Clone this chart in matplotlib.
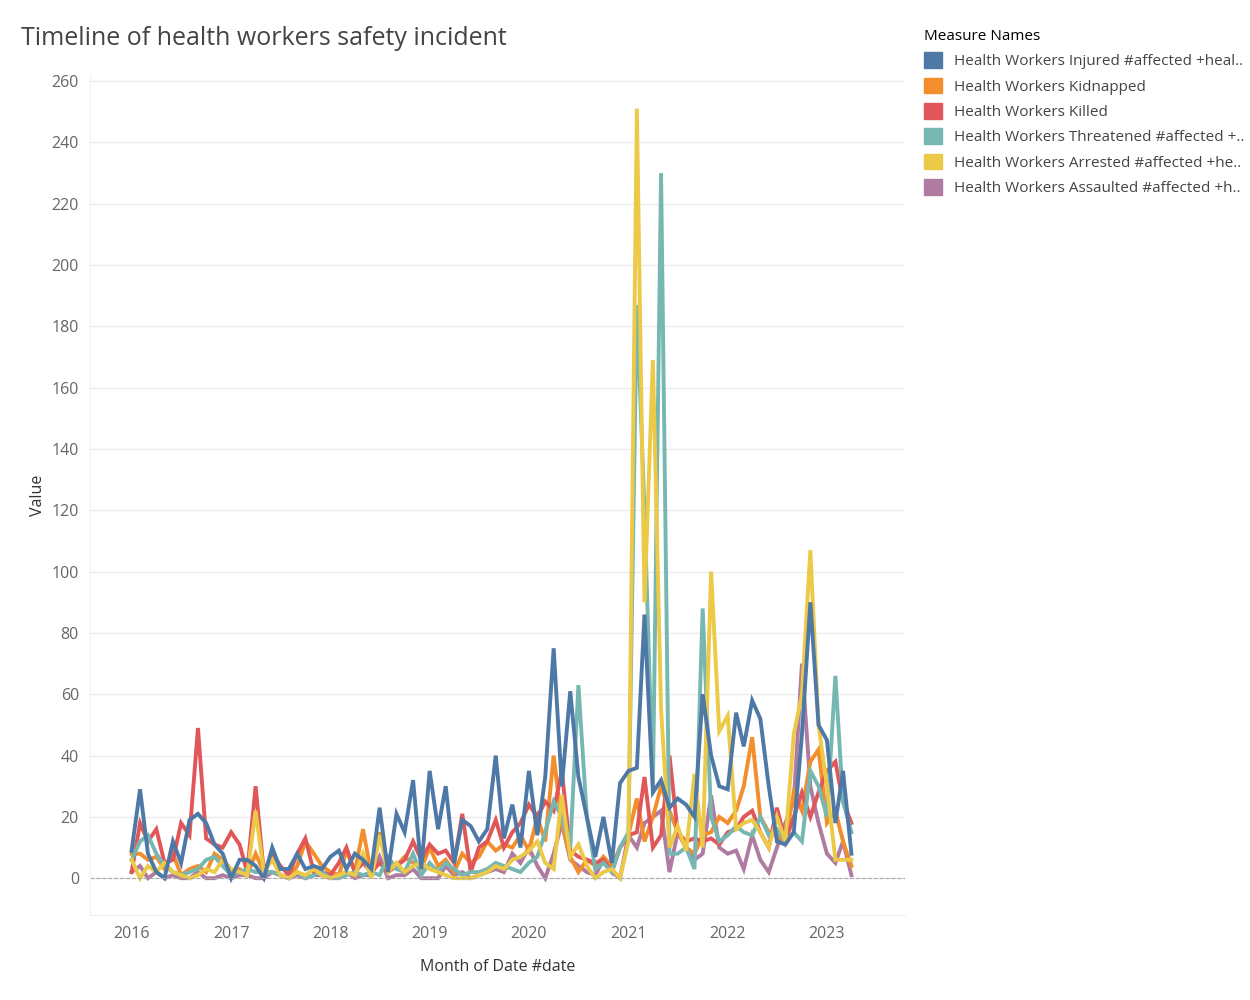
import matplotlib.pyplot as plt
import numpy as np
import pandas as pd

months = pd.date_range("2016-01-01", "2023-04-01", freq="MS")

injured = [9, 29, 8, 2, 0, 12, 5, 19, 21, 18, 11, 8,
           0, 6, 6, 4, 0, 10, 3, 3, 8, 3, 4, 3,
           7, 9, 3, 8, 6, 3, 23, 2, 21, 15, 32, 3,
           35, 16, 30, 5, 19, 17, 12, 16, 40, 13, 24, 10,
           35, 14, 33, 75, 30, 61, 33, 20, 7, 20, 5, 31,
           35, 36, 86, 28, 32, 23, 26, 24, 20, 60, 40, 30,
           29, 54, 43, 58, 52, 30, 12, 11, 15, 47, 90, 50,
           45, 18, 35, 8]
kidnapped = [8, 8, 6, 7, 3, 8, 1, 3, 4, 2, 8, 6,
             2, 3, 1, 8, 2, 2, 1, 0, 4, 12, 8, 4,
             2, 1, 9, 2, 16, 1, 15, 3, 4, 7, 5, 3,
             10, 4, 6, 2, 8, 5, 7, 12, 9, 11, 10, 14,
             9, 20, 12, 40, 18, 7, 2, 6, 4, 7, 4, 10,
             14, 26, 12, 20, 30, 22, 15, 10, 8, 14, 15, 20,
             18, 22, 30, 46, 20, 15, 14, 12, 28, 22, 38, 42,
             18, 22, 12, 4]
killed = [2, 18, 12, 16, 5, 6, 18, 14, 49, 13, 11, 10,
          15, 11, 2, 30, 2, 8, 4, 1, 8, 13, 2, 2,
          1, 5, 10, 2, 5, 2, 5, 2, 4, 6, 12, 6,
          11, 8, 9, 5, 21, 2, 10, 12, 19, 10, 15, 18,
          24, 20, 25, 22, 35, 9, 7, 6, 5, 6, 2, 10,
          14, 15, 33, 10, 14, 40, 15, 12, 13, 12, 13, 11,
          15, 16, 20, 22, 15, 10, 23, 12, 20, 28, 20, 28,
          35, 38, 25, 18]
threatened = [6, 12, 14, 8, 4, 2, 1, 2, 3, 6, 7, 4,
              1, 2, 3, 2, 2, 2, 1, 0, 2, 0, 1, 2,
              0, 0, 1, 2, 1, 2, 1, 7, 3, 2, 8, 1,
              5, 2, 5, 3, 1, 2, 2, 3, 5, 4, 3, 2,
              5, 7, 15, 25, 20, 10, 63, 20, 3, 5, 2, 10,
              15, 187, 120, 30, 230, 8, 8, 10, 3, 88, 20, 12,
              14, 17, 15, 14, 20, 14, 16, 12, 15, 12, 35, 30,
              20, 66, 25, 15]
arrested = [6, 0, 4, 2, 5, 2, 1, 0, 1, 3, 2, 6,
            3, 2, 1, 22, 2, 6, 1, 0, 2, 1, 3, 1,
            0, 1, 2, 1, 8, 0, 14, 2, 5, 2, 4, 5,
            3, 2, 1, 0, 0, 0, 1, 2, 4, 3, 6, 7,
            9, 12, 5, 3, 27, 7, 11, 4, 0, 2, 3, 0,
            12, 251, 90, 169, 55, 10, 17, 9, 34, 10, 100, 48,
            53, 16, 18, 19, 15, 10, 20, 12, 47, 60, 107, 50,
            30, 6, 6, 6]
assaulted = [2, 4, 0, 2, 0, 1, 0, 0, 2, 0, 0, 1,
             0, 1, 1, 0, 0, 2, 1, 0, 1, 0, 1, 1,
             0, 1, 2, 0, 1, 1, 7, 0, 1, 1, 3, 0,
             0, 0, 4, 1, 2, 0, 1, 2, 3, 2, 8, 5,
             10, 4, 0, 8, 18, 6, 4, 2, 1, 6, 2, 0,
             14, 10, 18, 20, 22, 2, 15, 10, 6, 8, 27, 10,
             8, 9, 3, 14, 6, 2, 10, 18, 25, 70, 30, 18,
             8, 5, 12, 1]

labels = ["Health Workers Injured #affected +heal..",
          "Health Workers Kidnapped",
          "Health Workers Killed",
          "Health Workers Threatened #affected +..",
          "Health Workers Arrested #affected +he..",
          "Health Workers Assaulted #affected +h.."]
colors = ["#4e79a7", "#f28e2b", "#e15759", "#76b7b2", "#edc948", "#b07aa1"]
series = [injured, kidnapped, killed, threatened, arrested, assaulted]
order = [5, 1, 2, 3, 4, 0]  # draw order roughly as in reference

plt.rcParams['font.family'] = ['Open Sans', 'DejaVu Sans']
fig = plt.figure(figsize=(12.5, 10), dpi=100)
ax = fig.add_axes([0.072, 0.085, 0.652, 0.84])

for i in order:
    ax.plot(months, series[i], color=colors[i], lw=2.8, label=labels[i],
            solid_joinstyle='miter')

ax.set_ylim(-12, 262)
ax.set_yticks(range(0, 261, 20))
ax.set_xlim(pd.Timestamp("2015-08-01"), pd.Timestamp("2023-10-15"))
ax.set_xticks([pd.Timestamp(f"{y}-01-01") for y in range(2016, 2024)])
ax.set_xticklabels([str(y) for y in range(2016, 2024)])
ax.grid(axis='y', color='#ececec', lw=1)
ax.axhline(0, color='#aaaaaa', lw=0.8, ls='--')
for s in ['top', 'right']:
    ax.spines[s].set_visible(False)
for s in ['left', 'bottom']:
    ax.spines[s].set_color('#f0f0f0')
ax.tick_params(length=0, labelsize=11.5, colors='#666666', pad=8)
ax.set_ylabel("Value", fontsize=11.5, color='#333333')
ax.set_xlabel("Month of Date #date", fontsize=11.5, color='#333333', labelpad=12)
fig.text(0.017, 0.955, "Timeline of health workers safety incident",
         fontsize=18, color='#444444')

handles = [plt.Rectangle((0, 0), 1, 1, color=c) for c in colors]
leg = fig.legend(handles, labels, loc='upper left', bbox_to_anchor=(0.728, 0.985),
                 frameon=False, title="Measure Names", fontsize=11,
                 title_fontsize=11, handlelength=1.2, handleheight=1.2,
                 labelspacing=0.55, alignment='left', labelcolor='#444444')
fig.savefig("out.png", dpi=100)
